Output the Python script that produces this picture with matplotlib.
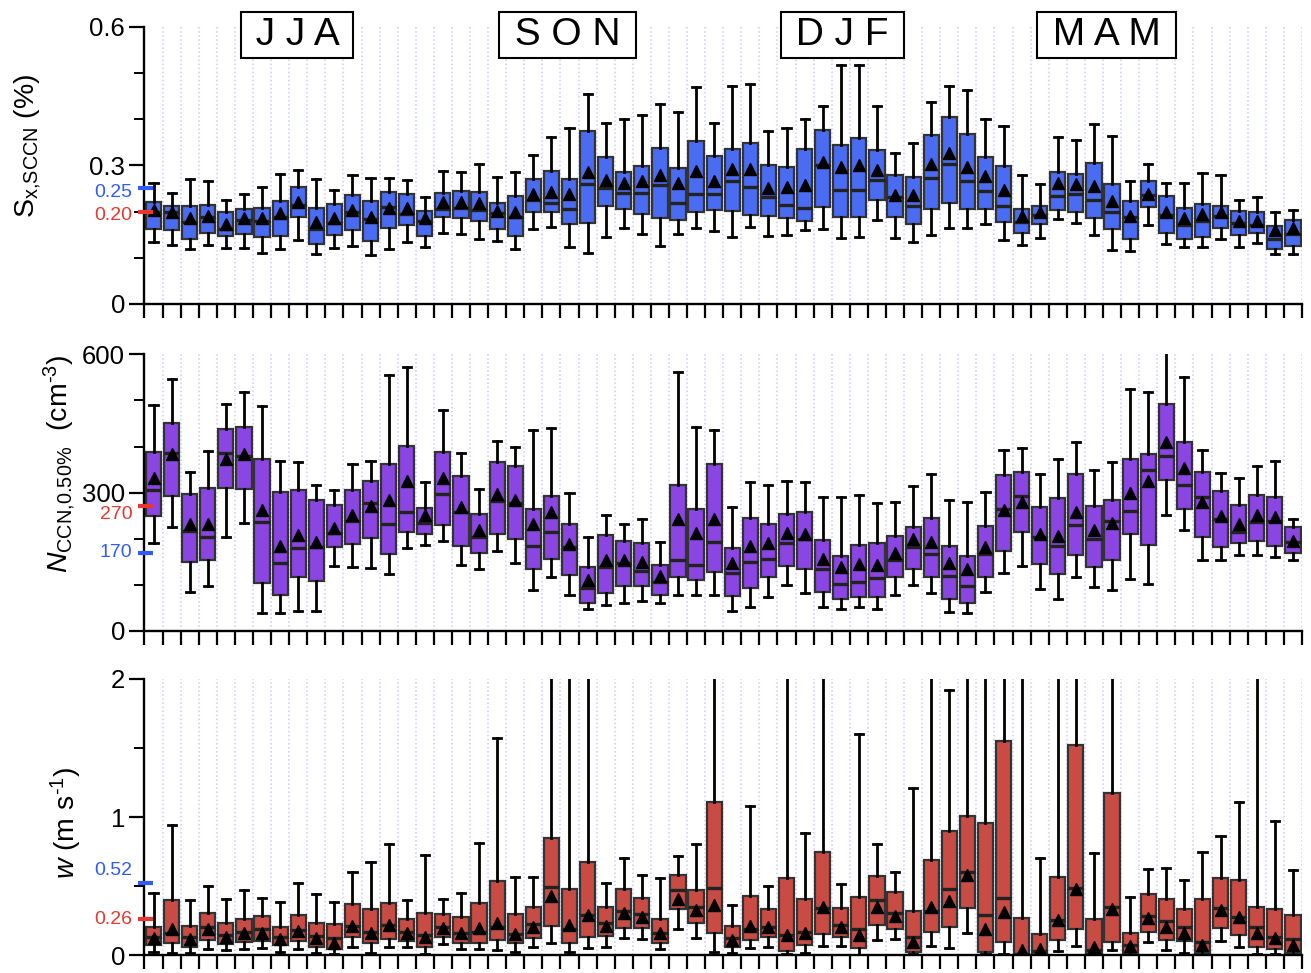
import matplotlib

matplotlib.use("Agg")
import matplotlib.pyplot as plt
import matplotlib.transforms as mtransforms
import numpy as np

plt.rcParams["font.family"] = ["Liberation Sans", "DejaVu Sans"]
plt.rcParams["mathtext.fontset"] = "custom"
plt.rcParams["mathtext.rm"] = "Liberation Sans"
plt.rcParams["mathtext.it"] = "Liberation Sans:italic"
plt.rcParams["mathtext.bf"] = "Liberation Sans:bold"

# weekly distributions: upper whisker, q3, median, mean, q1, lower whisker
s_hi = [.261, .241, .270, .267, .226, .238, .253, .282, .290, .270, .247, .279, .273, .273, .268, .231,
        .288, .286, .302, .274, .286, .322, .362, .381, .454, .392, .400, .408, .432, .416, .469, .392,
        .472, .475, .375, .380, .400, .428, .517, .517, .428, .327, .348, .436, .472, .463, .400, .385,
        .279, .259, .361, .355, .389, .364, .267, .303, .261, .261, .284, .278, .226, .232, .200, .203]
s_q3 = [.221, .213, .211, .215, .200, .206, .207, .223, .253, .208, .216, .236, .222, .242, .237, .202,
        .241, .244, .242, .219, .234, .270, .287, .270, .374, .317, .285, .299, .337, .294, .353, .320,
        .335, .349, .300, .297, .335, .376, .345, .359, .333, .279, .275, .366, .405, .368, .317, .299,
        .205, .212, .285, .281, .305, .260, .223, .265, .234, .207, .216, .212, .202, .198, .169, .181]
s_med = [.200, .198, .178, .189, .163, .182, .180, .188, .214, .162, .175, .198, .184, .209, .194, .180,
         .205, .207, .203, .196, .189, .224, .219, .206, .260, .250, .241, .241, .257, .218, .239, .239,
         .267, .252, .232, .214, .208, .301, .247, .247, .268, .232, .212, .273, .303, .267, .244, .212,
         .177, .193, .234, .238, .226, .200, .188, .236, .193, .171, .180, .190, .175, .171, .141, .151]
s_mean = [.203, .198, .185, .190, .173, .185, .185, .196, .220, .177, .185, .203, .189, .207, .207, .185,
          .220, .220, .218, .202, .198, .238, .242, .238, .286, .268, .261, .265, .278, .261, .288, .265,
          .292, .292, .250, .252, .257, .308, .297, .301, .290, .236, .236, .302, .326, .297, .277, .247,
          .190, .198, .261, .259, .255, .223, .190, .238, .200, .185, .194, .199, .180, .180, .160, .165]
s_q1 = [.162, .160, .141, .153, .147, .151, .144, .146, .188, .130, .149, .160, .136, .164, .170, .146,
        .188, .185, .180, .162, .147, .200, .198, .172, .176, .213, .205, .194, .185, .182, .200, .203,
        .202, .192, .190, .185, .180, .209, .188, .188, .225, .188, .172, .205, .218, .205, .205, .178,
        .153, .173, .203, .198, .185, .163, .141, .209, .154, .140, .144, .164, .149, .154, .120, .125]
s_lo = [.135, .128, .120, .128, .122, .122, .111, .120, .138, .108, .122, .125, .105, .120, .135, .123,
        .154, .151, .140, .136, .120, .163, .167, .124, .110, .144, .165, .151, .125, .151, .165, .158,
        .144, .166, .147, .149, .160, .162, .142, .144, .182, .142, .134, .149, .164, .164, .173, .138,
        .128, .143, .183, .175, .149, .117, .115, .170, .130, .123, .123, .140, .123, .131, .108, .108]

n_hi = [490, 546, 345, 390, 492, 519, 488, 369, 366, 316, 306, 361, 369, 556, 572, 324,
        479, 386, 307, 413, 398, 436, 441, 299, 204, 251, 231, 242, 194, 562, 442, 436,
        268, 324, 316, 326, 322, 291, 291, 294, 278, 279, 315, 340, 284, 279, 302, 392,
        396, 340, 373, 409, 349, 366, 525, 519, 620, 550, 392, 342, 331, 358, 369, 242]
n_q3 = [389, 451, 298, 309, 439, 443, 373, 301, 306, 285, 273, 305, 325, 363, 401, 267,
        389, 337, 254, 366, 358, 265, 293, 231, 138, 208, 196, 191, 144, 316, 264, 361,
        179, 244, 231, 254, 257, 197, 163, 186, 191, 206, 225, 246, 185, 163, 228, 338,
        344, 268, 288, 340, 272, 283, 374, 384, 492, 410, 344, 303, 273, 295, 291, 225]
n_med = [306, 385, 217, 203, 387, 379, 237, 147, 179, 183, 212, 239, 278, 231, 257, 235,
         297, 257, 203, 281, 278, 184, 214, 183, 94, 138, 147, 131, 106, 153, 143, 192,
         126, 149, 157, 190, 199, 135, 101, 106, 114, 155, 182, 167, 120, 98, 167, 264,
         293, 204, 184, 230, 199, 239, 261, 350, 380, 316, 290, 242, 215, 236, 239, 194]
n_mean = [331, 383, 233, 233, 373, 383, 262, 184, 208, 194, 223, 251, 270, 285, 325, 251,
          331, 268, 219, 298, 284, 231, 257, 188, 111, 154, 154, 149, 119, 242, 213, 242,
          147, 184, 191, 213, 210, 157, 139, 145, 142, 170, 199, 194, 148, 134, 183, 262,
          280, 210, 206, 257, 218, 235, 300, 326, 410, 353, 280, 249, 233, 251, 248, 196]
n_q1 = [249, 293, 149, 155, 311, 307, 105, 77, 117, 108, 183, 189, 201, 168, 215, 210,
        230, 185, 170, 210, 199, 134, 156, 121, 61, 82, 98, 98, 77, 117, 111, 127,
        76, 94, 118, 141, 134, 84, 69, 73, 73, 116, 134, 116, 69, 61, 116, 173,
        215, 145, 124, 165, 138, 154, 210, 187, 327, 264, 204, 183, 190, 195, 184, 170]
n_lo = [191, 226, 85, 98, 204, 235, 40, 40, 43, 43, 141, 139, 136, 124, 179, 187,
        196, 142, 134, 174, 147, 89, 118, 77, 47, 56, 60, 66, 60, 77, 77, 78,
        44, 53, 74, 100, 83, 53, 48, 51, 48, 77, 100, 83, 42, 38, 85, 126,
        141, 92, 69, 116, 95, 89, 113, 102, 251, 219, 154, 154, 164, 164, 161, 154]

w_hi = [.449, .945, .400, .502, .408, .475, .415, .388, .523, .446, .388, .603, .678, .803, .400, .726,
        .408, .449, .815, 1.575, .569, .569, 2.2, 2.2, 2.2, .521, .702, .581, .557, .721, .808, 2.2,
        .364, 1.081, .502, 2.2, .888, 2.2, .516, 1.602, .803, .605, 1.213, 2.2, 1.920, 2.2, 2.2, 2.2,
        2.2, .702, 2.2, 2.2, .743, 2.2, .425, .625, .634, .545, .750, .863, 1.107, 2.2, .974, .615]
w_q3 = [.203, .400, .215, .309, .232, .265, .285, .207, .289, .236, .224, .369, .333, .381, .265, .304,
        .299, .275, .381, .540, .299, .347, .847, .482, .675, .347, .478, .415, .265, .579, .473, 1.112,
        .212, .429, .335, .562, .405, .745, .345, .420, .574, .456, .318, .690, .902, 1.008, .955, 1.553,
        .273, .154, .569, 1.522, .263, 1.172, .164, .441, .405, .333, .410, .562, .545, .352, .333, .289]
w_med = [.130, .159, .130, .207, .147, .171, .188, .135, .183, .142, .123, .212, .171, .219, .171, .145,
         .207, .159, .171, .207, .154, .224, .497, .188, .289, .232, .323, .299, .164, .473, .347, .490,
         .123, .188, .207, .145, .171, .340, .219, .188, .400, .304, .135, .323, .480, .603, .289, .417,
         .010, .034, .256, .490, .039, .347, .075, .287, .248, .207, .096, .340, .275, .203, .135, .116]
w_mean = [.123, .188, .116, .188, .135, .159, .164, .116, .178, .123, .092, .212, .164, .219, .164, .130,
          .195, .159, .195, .236, .154, .207, .429, .219, .292, .215, .304, .280, .164, .405, .328, .364,
          .111, .215, .203, .147, .164, .352, .207, .147, .347, .285, .099, .347, .396, .581, .188, .316,
          .039, .043, .256, .478, .063, .333, .068, .268, .207, .164, .075, .328, .280, .164, .123, .075]
w_q1 = [.072, .087, .058, .111, .080, .094, .104, .072, .106, .063, .046, .130, .087, .121, .104, .058,
        .135, .092, .092, .111, .087, .123, .215, .087, .130, .140, .200, .200, .087, .338, .236, .159,
        .063, .111, .130, .034, .072, .154, .135, .055, .217, .188, .024, .171, .207, .340, .024, .099,
        .005, .005, .111, .191, .010, .099, .014, .166, .111, .106, .014, .195, .147, .063, .043, .019]
w_lo = [.027, .019, .014, .048, .039, .043, .051, .027, .048, .014, .007, .063, .019, .058, .058, .010,
        .080, .048, .048, .039, .027, .063, .087, .027, .051, .063, .128, .116, .043, .188, .128, .027,
        .014, .051, .058, .007, .019, .070, .068, .002, .111, .116, .007, .068, .051, .164, .007, .010,
        .002, .002, .031, .070, .002, .039, .002, .094, .039, .014, .002, .104, .063, .010, .007, .005]

seasons = ["J J A", "S O N", "D J F", "M A M"]
season_x = [8.43, 23.4, 38.6, 53.2]

BLUE_MARK = "#2f5bff"
RED_MARK = "#e8372f"


def draw_panel(ax, hi, q3, med, mean, q1, lo, color, ymax, yticks, yticklabels, yminor):
    stats = [dict(whislo=a, q1=b, med=c, q3=d, whishi=e, mean=f)
             for a, b, c, d, e, f in zip(lo, q1, med, q3, hi, mean)]
    pos = np.arange(len(stats)) + 0.5
    ax.bxp(stats, positions=pos, widths=0.84, capwidths=0.45, showmeans=True,
           showfliers=False, patch_artist=True, manage_ticks=False,
           boxprops=dict(facecolor=color, edgecolor="#333333", linewidth=1.6),
           medianprops=dict(color="#222222", linewidth=2.4),
           whiskerprops=dict(color="black", linewidth=2),
           capprops=dict(color="black", linewidth=2),
           meanprops=dict(marker="^", markerfacecolor="black", markeredgecolor="black",
                          markersize=9))
    ax.set_xlim(0, len(stats))
    ax.set_xticks(np.arange(len(stats) + 1))
    ax.set_xticklabels([])
    ax.set_ylim(0, ymax)
    ax.set_yticks(yticks)
    ax.set_yticklabels(yticklabels)
    ax.set_yticks(yminor, minor=True)
    ax.grid(axis="x", color="#c3d0f5", linestyle=":", linewidth=1.1)
    ax.set_axisbelow(True)
    for side in ("top", "right"):
        ax.spines[side].set_visible(False)
    for side in ("left", "bottom"):
        ax.spines[side].set_linewidth(1.7)
    ax.tick_params(axis="x", length=10, width=1.6, direction="out")
    ax.tick_params(axis="y", which="major", length=11, width=1.6, labelsize=18.5, pad=3)
    ax.tick_params(axis="y", which="minor", length=7, width=1.4)


def mark_level(ax, value, text, color, dy=0):
    trans = mtransforms.blended_transform_factory(ax.transAxes, ax.transData)
    ax.plot([-0.0056, 0.0075], [value, value], color=color, lw=3, transform=trans,
            clip_on=False, solid_capstyle="butt", zorder=6)
    ax.annotate(text, xy=(-0.0105, value), xycoords=trans, xytext=(0, dy),
                textcoords="offset points", color=color, fontsize=14,
                ha="right", va="center", annotation_clip=False)


fig = plt.figure(figsize=(13.11, 9.73), dpi=100)
ax1 = fig.add_axes([0.1102, 0.6876, 0.8829, 0.2850])
ax2 = fig.add_axes([0.1102, 0.3515, 0.8829, 0.2844])
ax3 = fig.add_axes([0.1102, 0.0182, 0.8829, 0.2840])

draw_panel(ax1, s_hi, s_q3, s_med, s_mean, s_q1, s_lo, "#4a6cf2", 0.6,
           [0, 0.3, 0.6], ["0", "0.3", "0.6"], [0.1, 0.2, 0.4, 0.5])
draw_panel(ax2, n_hi, n_q3, n_med, n_mean, n_q1, n_lo, "#8a45e2", 600,
           [0, 300, 600], ["0", "300", "600"], [100, 200, 400, 500])
draw_panel(ax3, w_hi, w_q3, w_med, w_mean, w_q1, w_lo, "#c84b44", 2,
           [0, 1, 2], ["0", "1", "2"], [0.5, 1.5])

ax1.set_ylabel(r"$\mathrm{S}_{\text{x,SCCN}}$ (%)", fontsize=20.5)
ax1.yaxis.set_label_coords(-0.0877, 0.570)
ax2.set_ylabel(r"$N_{\text{CCN,0.50%}}$  (cm$^{\text{-3}}$)", fontsize=20.5)
ax2.yaxis.set_label_coords(-0.058, 0.6035)
ax3.set_ylabel(r"$w$ (m s$^{\text{-1}}$)", fontsize=20.5)
ax3.yaxis.set_label_coords(-0.052, 0.4806)

mark_level(ax1, 0.25, "0.25", BLUE_MARK, dy=-3)
mark_level(ax1, 0.20, "0.20", RED_MARK, dy=-3)
mark_level(ax2, 270, "270", RED_MARK, dy=-6)
mark_level(ax2, 170, "170", BLUE_MARK)
mark_level(ax3, 0.52, "0.52", BLUE_MARK, dy=9)
mark_level(ax3, 0.26, "0.26", RED_MARK)

for name, x in zip(seasons, season_x):
    ax1.text(x, 0.582, " " + name + " ", fontsize=28, ha="center", va="center",
             clip_on=False, zorder=10,
             bbox=dict(boxstyle="square,pad=0.12", fc="white", ec="black", lw=1.5))

fig.savefig("out.png", dpi=100)
